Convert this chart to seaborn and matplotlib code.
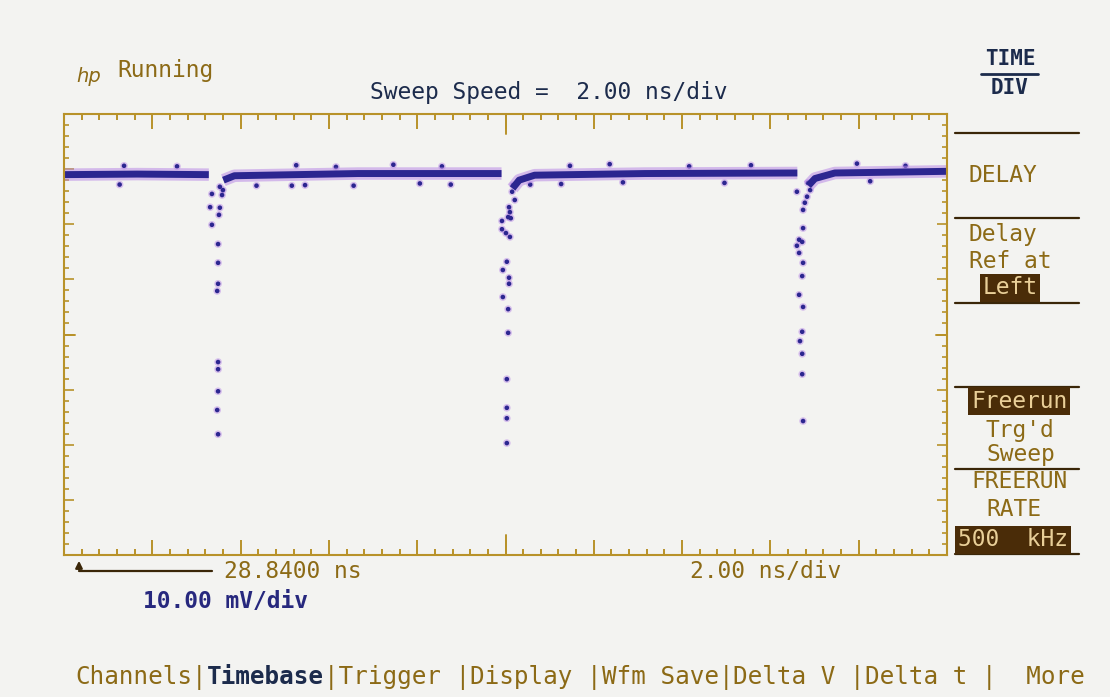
import matplotlib
matplotlib.use("Agg")
import matplotlib.pyplot as plt
import seaborn as sns
import pandas as pd
from matplotlib.lines import Line2D

# ---- timebase / vertical settings -------------------------------------
t_start = 28.84        # ns, delay reference at left edge
ns_per_div = 2.00
mv_per_div = 10.00
n_xdiv, n_ydiv = 10, 8

# ---- settled trace level between pulses (time ns, level mV) -------------
seg_a_t = [28.84, 30.50, 32.12]
seg_a_v = [29.0, 29.1, 29.0]
seg_b_t = [32.45, 32.70, 35.50, 38.75]
seg_b_v = [28.0, 28.8, 29.2, 29.2]
seg_c_t = [39.00, 39.15, 39.50, 42.00, 45.45]
seg_c_v = [26.5, 28.0, 28.9, 29.2, 29.3]
seg_d_t = [45.70, 45.85, 46.30, 48.84]
seg_d_v = [27.0, 28.3, 29.3, 29.6]

# ---- samples caught on the three negative-going pulses ---------------
dip1_t = [32.37, 32.44, 32.19, 32.42, 32.15, 32.37, 32.35, 32.19, 32.33,
          32.33, 32.33, 32.31, 32.33, 32.33, 32.33, 32.31, 32.33]
dip1_v = [26.8, 26.2, 25.5, 25.3, 23.1, 23.0, 21.7, 19.9, 16.4,
          13.0, 9.2, 7.9, -5.0, -6.3, -10.3, -13.7, -18.1]

dip2_t = [39.01, 38.99, 39.05, 38.92, 38.94, 38.90, 38.96, 38.76, 38.76,
          38.85, 38.94, 38.87, 38.78, 38.92, 38.92, 38.78, 38.90, 38.90,
          38.87, 38.87, 38.87, 38.87]
dip2_v = [27.1, 25.9, 24.4, 23.1, 22.2, 21.3, 21.1, 20.6, 19.1,
          18.4, 17.7, 13.2, 11.7, 10.3, 9.2, 6.8, 4.6, 0.3,
          -8.1, -13.3, -15.2, -19.7]

dip3_t = [45.69, 45.74, 45.67, 45.62, 45.58, 45.44, 45.58, 45.49, 45.56,
          45.44, 45.49, 45.58, 45.56, 45.49, 45.58, 45.56, 45.51, 45.56,
          45.56, 45.58]
dip3_v = [27.5, 26.2, 25.0, 23.9, 22.6, 25.9, 19.3, 17.2, 16.8,
          16.1, 14.8, 13.0, 10.6, 7.2, 5.0, 0.5, -1.2, -3.5,
          -7.2, -15.7]

# ---- stray samples just off the settled level ---------------------------
stray_t = [30.2, 31.4, 34.1, 35.0, 36.3, 37.4, 40.3, 41.2, 43.0, 44.4, 46.8, 47.9,
           30.1, 33.2, 34.0, 34.3, 35.4, 36.9, 37.6, 39.4, 40.1, 41.5, 43.8, 47.1]
stray_v = [30.6, 30.5, 30.7, 30.4, 30.8, 30.5, 30.6, 30.9, 30.5, 30.7, 31.0, 30.6,
           27.2, 27.0, 27.0, 27.1, 27.0, 27.4, 27.2, 27.2, 27.3, 27.6, 27.5, 27.8]

# ---- screen text -------------------------------------------------------
menu_fields = ["Channels|", "Timebase", "|Trigger |", "Display |", "Wfm Save|",
               "Delta V |", "Delta t |", "  More"]
softkeys = ["DELAY", "Delay", "Ref at", "Left", "Freerun", "Trg'd", "Sweep",
            "FREERUN", "RATE", "500  kHz"]

# ---- colours -----------------------------------------------------------
BG = "#f3f3f1"
GOLD = "#b8922a"
GOLD_TXT = "#8c6a16"
NAVY = "#1c2b4c"
TRACE = "#2c2690"
HALO = "#b98ae6"
INV_BG = "#4a2c08"
INV_FG = "#e9cf98"

sns.set_theme(style="white")
plt.rcParams["font.family"] = ["DejaVu Sans Mono", "DejaVu Sans"]

W, H = 1110, 697
fig = plt.figure(figsize=(W / 100, H / 100), dpi=100, facecolor=BG)


def fx(x):
    return x / W


def fy(y):
    return 1 - y / H


ax = fig.add_axes([fx(64), fy(555), fx(947) - fx(64), fy(114) - fy(555)])
ax.set_facecolor(BG)

x0, x1 = t_start, t_start + n_xdiv * ns_per_div
y0, y1 = -n_ydiv / 2 * mv_per_div, n_ydiv / 2 * mv_per_div

# settled level, drawn as a fuzzy band
for st, sv in [(seg_a_t, seg_a_v), (seg_b_t, seg_b_v), (seg_c_t, seg_c_v), (seg_d_t, seg_d_v)]:
    seg = pd.DataFrame({"t": st, "v": sv})
    sns.lineplot(data=seg, x="t", y="v", ax=ax, color=HALO, lw=9, alpha=0.55,
                 sort=False, estimator=None, solid_capstyle="butt")
    sns.lineplot(data=seg, x="t", y="v", ax=ax, color=TRACE, lw=5,
                 sort=False, estimator=None, solid_capstyle="butt")

pts = pd.DataFrame({"t": dip1_t + dip2_t + dip3_t + stray_t,
                    "v": dip1_v + dip2_v + dip3_v + stray_v})
sns.scatterplot(data=pts, x="t", y="v", ax=ax, color=HALO, s=30, alpha=0.5,
                edgecolor="none", legend=False)
sns.scatterplot(data=pts, x="t", y="v", ax=ax, color=TRACE, s=11,
                edgecolor="none", legend=False)

ax.set_xlim(x0, x1)
ax.set_ylim(y0, y1)
ax.set_xlabel("")
ax.set_ylabel("")

# graticule frame with inward ticks on all four sides
ax.set_xticks([x0 + i * ns_per_div for i in range(n_xdiv + 1)])
ax.set_xticks([x0 + i * ns_per_div / 5 for i in range(n_xdiv * 5 + 1)], minor=True)
ax.set_yticks([y0 + i * mv_per_div for i in range(n_ydiv + 1)])
ax.set_yticks([y0 + i * mv_per_div / 5 for i in range(n_ydiv * 5 + 1)], minor=True)
ax.tick_params(which="both", direction="in", top=True, bottom=True, left=True, right=True,
               labelbottom=False, labelleft=False, color=GOLD)
ax.tick_params(axis="x", which="major", length=11, width=1.4)
ax.tick_params(axis="x", which="minor", length=4, width=1.4)
ax.tick_params(axis="y", which="major", length=7, width=1.2)
ax.tick_params(axis="y", which="minor", length=3.5, width=1.2)
for sp in ax.spines.values():
    sp.set_color(GOLD)
    sp.set_linewidth(1.5)
# longer centre marks
xc = (x0 + x1) / 2
ax.axvline(xc, 0, 0.045, color=GOLD, lw=1.4)
ax.axvline(xc, 0.955, 1, color=GOLD, lw=1.4)
ax.axhline(0, 0, 0.012, color=GOLD, lw=1.4)
ax.axhline(0, 0.988, 1, color=GOLD, lw=1.4)

FS = 16.5

# header
fig.text(fx(76), fy(76), "hp", color=GOLD_TXT, fontsize=14, style="italic",
         family=["DejaVu Sans"], va="center", ha="left")
fig.text(fx(117), fy(71), "Running", color=GOLD_TXT, fontsize=FS, va="center", ha="left")
fig.text(fx(370), fy(93), "Sweep Speed =  %.2f ns/div" % ns_per_div, color=NAVY,
         fontsize=FS, va="center", ha="left")

# softkey panel on the right
fig.text(fx(1010), fy(59), "TIME", color=NAVY, fontsize=15, weight="bold",
         va="center", ha="center")
fig.text(fx(1010), fy(88), "DIV", color=NAVY, fontsize=15, weight="bold",
         va="center", ha="center")
fig.add_artist(Line2D([fx(981), fx(1038)], [fy(74), fy(74)], color=NAVY, lw=2))

for yy in [133, 218, 303, 387, 469, 554]:
    fig.add_artist(Line2D([fx(955), fx(1079)], [fy(yy), fy(yy)], color="#3a2608", lw=1.6))

fig.text(fx(969), fy(176), softkeys[0], color=GOLD_TXT, fontsize=FS, va="center", ha="left")
fig.text(fx(969), fy(234), softkeys[1], color=GOLD_TXT, fontsize=FS, va="center", ha="left")
fig.text(fx(969), fy(261), softkeys[2], color=GOLD_TXT, fontsize=FS, va="center", ha="left")
fig.text(fx(1010), fy(288), softkeys[3], color=INV_FG, fontsize=FS, va="center", ha="center",
         bbox=dict(boxstyle="square,pad=0.12", fc=INV_BG, ec="none"))
fig.text(fx(1019), fy(401), softkeys[4], color=INV_FG, fontsize=FS, va="center", ha="center",
         bbox=dict(boxstyle="square,pad=0.12", fc=INV_BG, ec="none"))
fig.text(fx(1020), fy(430), softkeys[5], color=GOLD_TXT, fontsize=FS, va="center", ha="center")
fig.text(fx(1021), fy(455), softkeys[6], color=GOLD_TXT, fontsize=FS, va="center", ha="center")
fig.text(fx(1020), fy(482), softkeys[7], color=GOLD_TXT, fontsize=FS, va="center", ha="center")
fig.text(fx(1014), fy(510), softkeys[8], color=GOLD_TXT, fontsize=FS, va="center", ha="center")
fig.text(fx(1013), fy(540), softkeys[9], color=INV_FG, fontsize=FS, va="center", ha="center",
         bbox=dict(boxstyle="square,pad=0.12", fc=INV_BG, ec="none"))

# readouts under the graticule
fig.add_artist(Line2D([fx(79), fx(212)], [fy(571), fy(571)], color="#3a2608", lw=1.6))
ax.annotate("", xy=(fx(79), fy(558)), xytext=(fx(79), fy(572)), xycoords="figure fraction",
            arrowprops=dict(arrowstyle="-|>", color="#3a2608", lw=1.6, mutation_scale=10))
fig.text(fx(224), fy(572), "%.4f ns" % t_start, color=GOLD_TXT, fontsize=FS,
         va="center", ha="left")
fig.text(fx(690), fy(572), "%.2f ns/div" % ns_per_div, color=GOLD_TXT, fontsize=FS,
         va="center", ha="left")
fig.text(fx(143), fy(602), "%.2f mV/div" % mv_per_div, color="#27287e", fontsize=FS,
         weight="bold", va="center", ha="left")

# bottom menu bar
MFS = 17.5
char_px = 0.602 * MFS * 100 / 72
xpos = 75
for fld in menu_fields:
    col = NAVY if fld == "Timebase" else GOLD_TXT
    fig.text(fx(xpos), fy(677), fld, color=col, fontsize=MFS, va="center", ha="left",
             weight="bold" if fld == "Timebase" else "normal")
    xpos += len(fld) * char_px

fig.savefig("out.png", dpi=100, facecolor=BG)
